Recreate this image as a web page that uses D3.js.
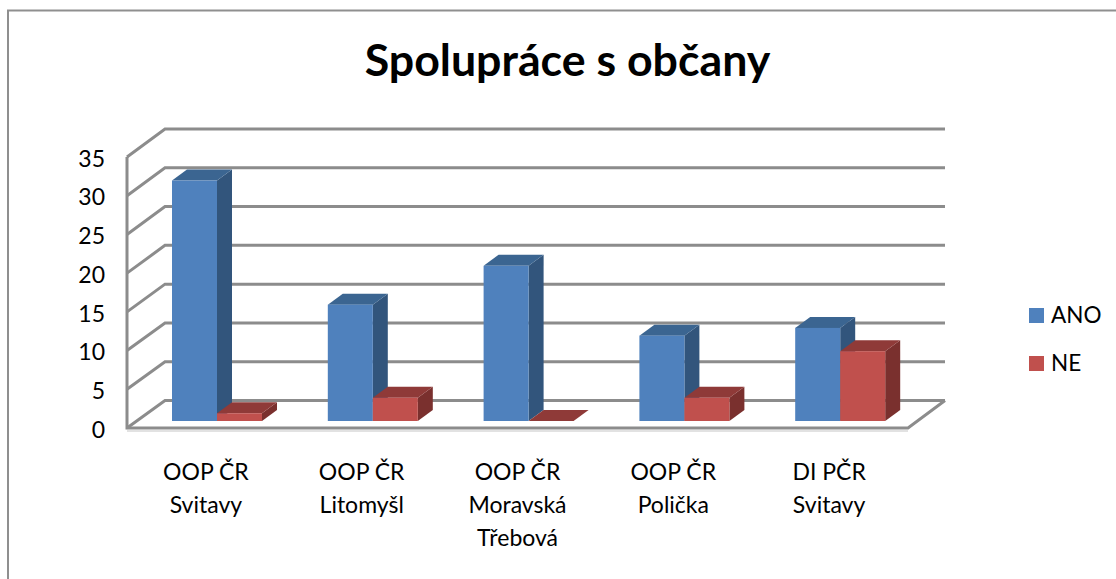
<!DOCTYPE html>
<html><head><meta charset="utf-8">
<script src="https://d3js.org/d3.v7.min.js"></script>
<style>html,body{margin:0;padding:0;background:#fff}svg{display:block}text{font-family:Lato,"Open Sans",sans-serif;fill:#000}</style>
</head><body><div id="c"></div>
<script>
const categories=[["OOP ČR","Svitavy"],["OOP ČR","Litomyšl"],["OOP ČR","Moravská","Třebová"],["OOP ČR","Polička"],["DI PČR","Svitavy"]];
const ano=[31,15,20,11,12];
const ne=[1,3,0,3,9];
const yTicks=[0,5,10,15,20,25,30,35];
const seriesNames=["ANO","NE"];
const W=1116,H=579;
const svg=d3.select("#c").append("svg").attr("width",W).attr("height",H);
const grid="#8c8c8c";
// frame
svg.append("path").attr("d","M8,579V10.5H1116").attr("fill","none").attr("stroke","#8f8f8f").attr("stroke-width",2);
svg.append("text").attr("x",567.5).attr("y",76).attr("text-anchor","middle").attr("font-size",44.7).attr("font-weight",700).text("Spolupráce s občany");
// scales
const yFront=d3.scaleLinear().domain([0,35]).range([428,157]);
const yBack=d3.scaleLinear().domain([0,35]).range([400.5,129]);
const yBar=d3.scaleLinear().domain([0,35]).range([421,149.5]);
const x=d3.scaleBand().domain(d3.range(categories.length)).range([127,906]);
const barW=45, groupOff=45;
const dx=15,dy=11;
// grid
const g=svg.append("g").attr("fill","none").attr("stroke",grid).attr("stroke-width",3);
yTicks.forEach(t=>{
  g.append("path").attr("d",`M127,${yFront(t)}L165,${yBack(t)}H945`);
});
g.append("path").attr("d",`M127,${yFront(35)}V${yFront(0)}H908L945,${yBack(0)}`);
svg.append("path").attr("d",`M127,431H908`).attr("stroke","#e2e2e2").attr("stroke-width",2);
// y axis
const ax=svg.append("g").attr("transform","translate(127,1)")
 .call(d3.axisLeft(yFront).tickValues(yTicks).tickSize(0).tickPadding(22));
ax.select(".domain").remove();
ax.selectAll("text").attr("font-size",23).attr("dy","0.36em");
// bars
function bar(px,v,front,top,side){
  const yT=yBar(v),yB=yBar(0);
  const b=svg.append("g");
  b.append("path").attr("fill",side).attr("d",`M${px+barW},${yT}l${dx},${-dy}V${yB-dy}l${-dx},${dy}Z`);
  b.append("path").attr("fill",top).attr("d",`M${px},${yT}l${dx},${-dy}h${barW}l${-dx},${dy}Z`);
  b.append("rect").attr("x",px).attr("y",yT).attr("width",barW).attr("height",yB-yT).attr("fill",front);
}
categories.forEach((c,i)=>{
  const px=x(i)+groupOff;
  bar(px,ano[i],"#4f81bd","#3b6591","#32557c");
  bar(px+barW,ne[i],"#c0504d","#8f3a38","#7a302e");
});
// category labels
categories.forEach((c,i)=>{
  const t=svg.append("text").attr("text-anchor","middle").attr("font-size",23);
  c.forEach((l,j)=>t.append("tspan").attr("x",x(i)+x.bandwidth()/2+1).attr("y",480+j*33).text(l));
});
// legend
const colors=["#4f81bd","#c0504d"];
seriesNames.forEach((n,i)=>{
  const y0=308+i*48;
  svg.append("rect").attr("x",1029).attr("y",y0).attr("width",15).attr("height",15).attr("fill",colors[i]);
  svg.append("text").attr("x",1051).attr("y",y0+15).attr("font-size",22.5).text(n);
});
</script></body></html>
